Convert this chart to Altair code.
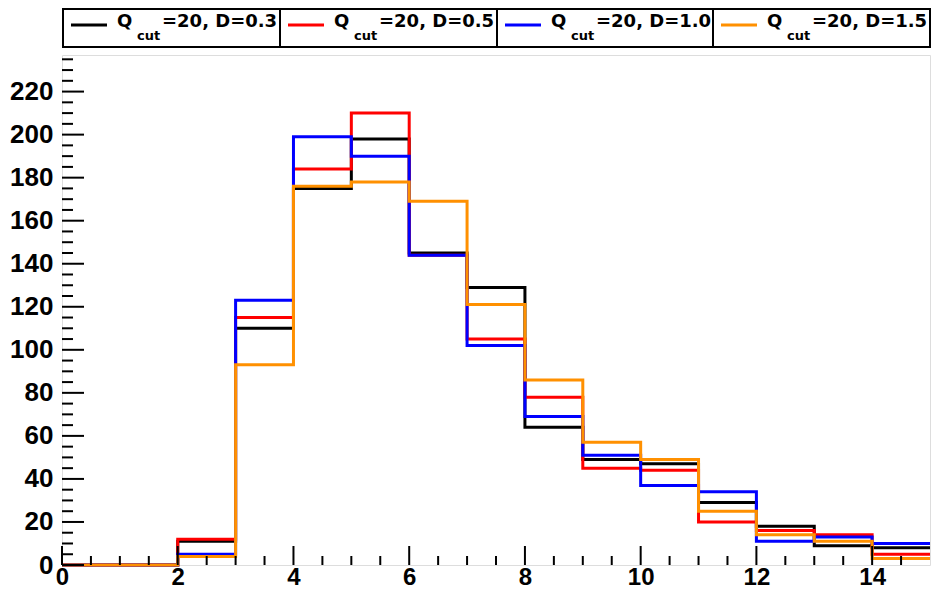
import altair as alt
import pandas as pd

# histogram bins: lower edges (width 1) and upper end of the range
bin_lo = [0, 1, 2, 3, 4, 5, 6, 7, 8, 9, 10, 11, 12, 13, 14]
x_end = 15

h_d03 = [0, 0, 11, 110, 175, 198, 145, 129, 64, 49, 47, 29, 18, 9, 8]
h_d05 = [0, 0, 12, 115, 184, 210, 144, 105, 78, 45, 44, 20, 16, 14, 5]
h_d10 = [0, 0, 5, 123, 199, 190, 144, 102, 69, 51, 37, 34, 11, 13, 10]
h_d15 = [0, 0, 4, 93, 176, 178, 169, 121, 86, 57, 49, 25, 14, 11, 3]

series = [h_d03, h_d05, h_d10, h_d15]
legend_main = ["Q", "Q", "Q", "Q"]
legend_sub = ["cut", "cut", "cut", "cut"]
legend_rest = ["=20, D=0.3", "=20, D=0.5", "=20, D=1.0", "=20, D=1.5"]
colors = ["#000000", "#ff0000", "#0000ff", "#ff9000"]

x_major = [0, 2, 4, 6, 8, 10, 12, 14]
x_minor = [0.5, 1, 1.5, 2.5, 3, 3.5, 4.5, 5, 5.5, 6.5, 7, 7.5, 8.5, 9, 9.5,
           10.5, 11, 11.5, 12.5, 13, 13.5, 14.5]
y_major = [0, 20, 40, 60, 80, 100, 120, 140, 160, 180, 200, 220]
y_minor = [5, 10, 15, 25, 30, 35, 45, 50, 55, 65, 70, 75, 85, 90, 95, 105, 110,
           115, 125, 130, 135, 145, 150, 155, 165, 170, 175, 185, 190, 195, 205,
           210, 215, 225, 230, 235]

W, H = 868, 510

xs = alt.Scale(domain=[0, 15], nice=False, zero=False)
ys = alt.Scale(domain=[0, 237], nice=False, zero=False)

xaxis = alt.Axis(values=x_major, domain=False, ticks=False, tickSize=0, grid=False,
                 labelFontSize=24, labelFont="Liberation Sans", labelFontWeight="bold",
                 labelColor="black", labelPadding=0, title=None, labelFlush=False,
                 labelOverlap=False)
yaxis = alt.Axis(values=y_major, domain=False, ticks=False, tickSize=0, grid=False,
                 labelFontSize=26, labelFont="Liberation Sans", labelFontWeight="bold",
                 labelColor="black", labelPadding=9, title=None, labelFlush=False,
                 labelOverlap=False)

layers = []

# histograms as step lines
for vals, col in zip(series, colors):
    df = pd.DataFrame({"v": bin_lo + [x_end], "c": vals + [vals[-1]]})
    layers.append(
        alt.Chart(df).mark_line(interpolate="step-after", color=col, strokeWidth=3)
        .encode(x=alt.X("v:Q", scale=xs, axis=xaxis),
                y=alt.Y("c:Q", scale=ys, axis=yaxis))
    )

# inward ticks
def xticks(vals, length):
    return alt.Chart(pd.DataFrame({"v": vals})).mark_rule(color="black", strokeWidth=2).encode(
        x=alt.X("v:Q", scale=xs, axis=xaxis), y=alt.value(H), y2=alt.value(H - length))

def yticks(vals, length):
    return alt.Chart(pd.DataFrame({"v": vals})).mark_rule(color="black", strokeWidth=2).encode(
        y=alt.Y("v:Q", scale=ys, axis=yaxis), x=alt.value(0), x2=alt.value(length))

layers += [xticks(x_major, 19), xticks(x_minor, 9), yticks(y_major, 22), yticks(y_minor, 11)]

# legend box on top
one = pd.DataFrame({"a": [0]})
layers.append(
    alt.Chart(one).mark_rect(fill="white", fillOpacity=0, stroke="black", strokeWidth=2)
    .encode(x=alt.value(1), x2=alt.value(868), y=alt.value(-46), y2=alt.value(-8))
)
starts = [1, 218, 435, 651]
for i, s in enumerate(starts):
    if i > 0:
        layers.append(alt.Chart(one).mark_rule(color="black", strokeWidth=2)
                      .encode(x=alt.value(s), y=alt.value(-46), y2=alt.value(-8)))
    layers.append(alt.Chart(one).mark_rule(color=colors[i], strokeWidth=3)
                  .encode(x=alt.value(s + 8), x2=alt.value(s + 44), y=alt.value(-30)))
    layers.append(alt.Chart(one).mark_text(text=legend_main[i], align="left", baseline="alphabetic",
                                           font="DejaVu Sans", fontWeight="bold", fontSize=18,
                                           color="black")
                  .encode(x=alt.value(s + 54), y=alt.value(-28)))
    layers.append(alt.Chart(one).mark_text(text=legend_sub[i], align="left", baseline="alphabetic",
                                           font="DejaVu Sans", fontWeight="bold", fontSize=13,
                                           color="black")
                  .encode(x=alt.value(s + 74), y=alt.value(-15)))
    layers.append(alt.Chart(one).mark_text(text=legend_rest[i], align="left", baseline="alphabetic",
                                           font="DejaVu Sans", fontWeight="bold", fontSize=18,
                                           color="black")
                  .encode(x=alt.value(s + 99), y=alt.value(-28)))

chart = alt.layer(*layers).properties(
    width=W, height=H, autosize="none",
    padding={"left": 54, "top": 47, "right": 1, "bottom": 24},
).configure_view(stroke="black", strokeWidth=2).configure(background="white")

chart.save("out.html", embed_options={"renderer": "svg", "actions": False})
